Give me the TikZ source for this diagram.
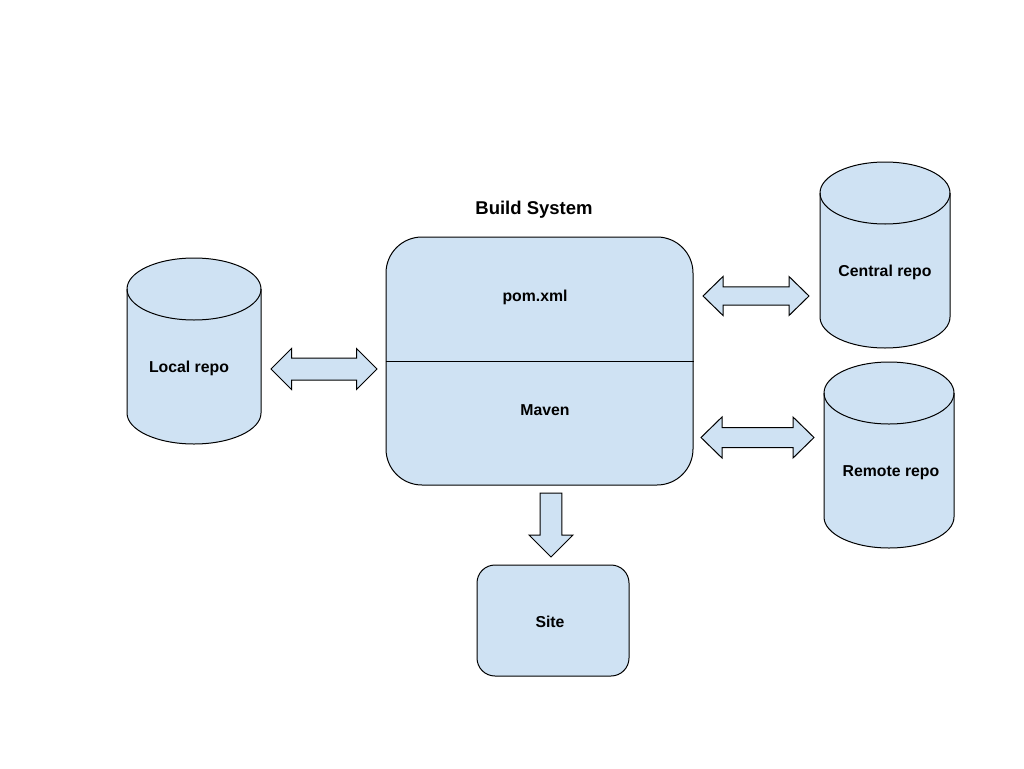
\documentclass[tikz,border=0pt]{standalone}
\usepackage{fontspec}
\setmainfont{Liberation Sans}
\definecolor{fillblue}{HTML}{CFE2F3}
\newcommand\mycyl[5]{%
 \draw[shapestyle] ({#1-#4},{-#2-#5}) -- ({#1-#4},{-#3+#5}) arc[start angle=180,end angle=360,x radius=#4pt,y radius=#5pt] -- ({#1+#4},{-#2-#5}) arc[start angle=0,end angle=180,x radius=#4pt,y radius=#5pt] -- cycle;
 \draw[edge] ({#1-#4},{-#2-#5}) arc[start angle=180,end angle=360,x radius=#4pt,y radius=#5pt];
}
\newcommand\mydbl[6]{%
 \draw[shapestyle] (#1,#3) -- ({#1+#4},{#3+#5}) -- ({#1+#4},{#3+#6}) -- ({#2-#4},{#3+#6}) -- ({#2-#4},{#3+#5}) -- (#2,#3) -- ({#2-#4},{#3-#5}) -- ({#2-#4},{#3-#6}) -- ({#1+#4},{#3-#6}) -- ({#1+#4},{#3-#5}) -- cycle;
}
\begin{document}
\begin{tikzpicture}[x=1pt,y=1pt,
  shapestyle/.style={draw=black, line width=1pt, fill=fillblue, line join=miter},
  edge/.style={draw=black, line width=1pt},
  lbl/.style={font=\fontsize{15.8}{18}\selectfont\bfseries, inner sep=0pt},
  ttl/.style={font=\fontsize{18.5}{22}\selectfont\bfseries, inner sep=0pt}]
\useasboundingbox (0,0) rectangle (1024,-768);

% Build system box
\node[shapestyle, rounded corners=36pt, minimum width=307pt, minimum height=248pt, inner sep=0pt] (build) at (539.5,-361) {};
\draw[edge] (build.west) -- (build.east);
\node[ttl] (title) at (534,-210) {Build System};
\node[lbl] (pom) at (535,-297.5) {pom.xml};
\node[lbl] (maven) at (545,-410) {Maven};

% Site
\node[shapestyle, rounded corners=18pt, minimum width=152pt, minimum height=111pt, inner sep=0pt] (sitebox) at (553,-620.5) {};
\node[lbl] (site) at (550,-622) {Site};

% Cylinders
\mycyl{194}{258}{444}{67}{31}
\node[lbl] (local) at (189,-368.5) {Local repo};
\mycyl{885}{162}{348}{65}{31}
\node[lbl] (central) at (885,-272.5) {Central repo};
\mycyl{889}{362}{548}{65}{31}
\node[lbl] (remote) at (891,-472.5) {Remote repo};

% Block arrows
\mydbl{271}{377}{-369}{20.5}{20.5}{11}
\mydbl{703}{809}{-296}{20}{19.5}{9.2}
\mydbl{701}{814}{-437.5}{21}{20.5}{10}
\draw[shapestyle] (540.2,-493) -- (561.8,-493) -- (561.8,-535) -- (573,-535) -- (551,-557) -- (529,-535) -- (540.2,-535) -- cycle;
\end{tikzpicture}
\end{document}
